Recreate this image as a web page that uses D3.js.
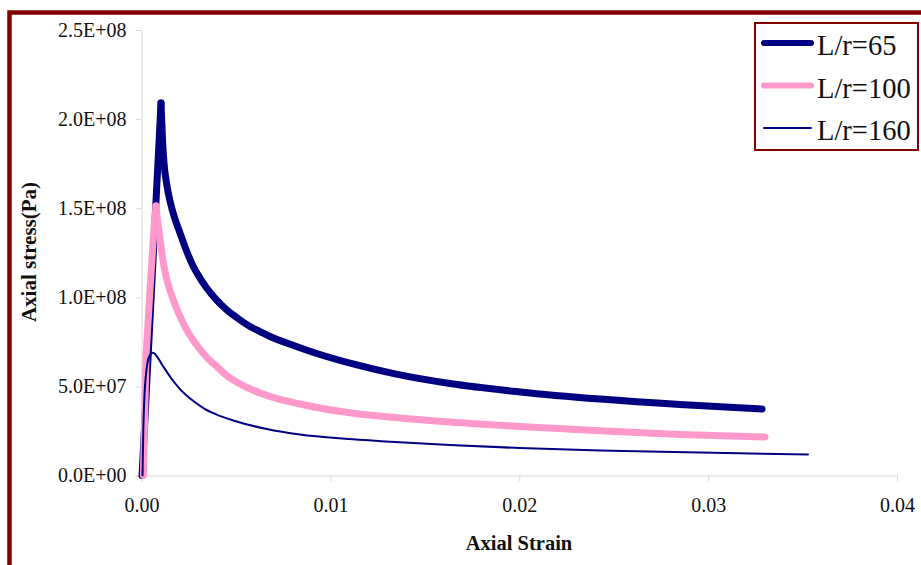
<!DOCTYPE html>
<html>
<head>
<meta charset="utf-8">
<script src="https://cdn.jsdelivr.net/npm/d3@7"></script>
<style>
  body { margin: 0; background: #fff; }
  text { font-family: "Liberation Serif", "Times New Roman", serif; fill: #111; }
</style>
</head>
<body>
<div id="viz"><svg></svg></div>
<script>
const fullWidth = 921;
const fullHeight = 565;

// axis ticks
const xTicks = [0, 0.01, 0.02, 0.03, 0.04];
const yTicks = [0, 5e7, 1e8, 1.5e8, 2e8, 2.5e8];

const labels = ['L/r=65', 'L/r=100', 'L/r=160'];

// [axial strain, axial stress (Pa)]
const s65 = [
  [0.00003, 0],
  [0.001032, 2.090e8],
  [0.001112, 1.883e8],
  [0.001191, 1.754e8],
  [0.001324, 1.641e8],
  [0.001509, 1.540e8],
  [0.001774, 1.439e8],
  [0.002038, 1.361e8],
  [0.002409, 1.254e8],
  [0.002743, 1.173e8],
  [0.003097, 1.108e8],
  [0.003452, 1.052e8],
  [0.003944, 0.988e8],
  [0.004511, 0.929e8],
  [0.005109, 0.881e8],
  [0.005745, 0.836e8],
  [0.006274, 0.808e8],
  [0.006803, 0.780e8],
  [0.008127, 0.727e8],
  [0.009451, 0.679e8],
  [0.011304, 0.623e8],
  [0.013422, 0.570e8],
  [0.016333, 0.516e8],
  [0.02004, 0.469e8],
  [0.024275, 0.429e8],
  [0.028511, 0.398e8],
  [0.032852, 0.373e8]
];

const s100 = [
  [0.0001, 0],
  [0.000238, 0.667e8],
  [0.00045, 1.041e8],
  [0.000678, 1.415e8],
  [0.000768, 1.512e8],
  [0.000847, 1.434e8],
  [0.000942, 1.361e8],
  [0.001059, 1.265e8],
  [0.001191, 1.173e8],
  [0.001403, 1.075e8],
  [0.001684, 0.985e8],
  [0.001985, 0.906e8],
  [0.002303, 0.836e8],
  [0.002621, 0.777e8],
  [0.003007, 0.721e8],
  [0.003468, 0.662e8],
  [0.003981, 0.612e8],
  [0.004474, 0.564e8],
  [0.00504, 0.525e8],
  [0.005639, 0.491e8],
  [0.006274, 0.463e8],
  [0.007333, 0.4265e8],
  [0.008392, 0.401e8],
  [0.009716, 0.373e8],
  [0.011304, 0.348e8],
  [0.013422, 0.3255e8],
  [0.016333, 0.300e8],
  [0.02004, 0.275e8],
  [0.024275, 0.251e8],
  [0.028511, 0.230e8],
  [0.033011, 0.216e8]
];

const s160 = [
  [0.000053, 0],
  [0.000095, 0.255e8],
  [0.000159, 0.452e8],
  [0.000265, 0.592e8],
  [0.000397, 0.665e8],
  [0.000593, 0.689e8],
  [0.001154, 0.611e8],
  [0.001562, 0.547e8],
  [0.002038, 0.485e8],
  [0.00278, 0.415e8],
  [0.003362, 0.373e8],
  [0.003981, 0.342e8],
  [0.00486, 0.309e8],
  [0.006629, 0.261e8],
  [0.008392, 0.230e8],
  [0.011039, 0.205e8],
  [0.013422, 0.188e8],
  [0.016333, 0.171e8],
  [0.02004, 0.154e8],
  [0.024275, 0.140e8],
  [0.02957, 0.129e8],
  [0.035288, 0.118e8]
];

const series = [
  { name: labels[0], data: s65, color: '#000080', width: 7, sharp: true },
  { name: labels[1], data: s100, color: '#ff99cc', width: 7, sharp: true },
  { name: labels[2], data: s160, color: '#000080', width: 2, sharp: false }
];

const svg = d3.select('#viz svg')
  .attr('width', fullWidth)
  .attr('height', fullHeight);

// outer frame (right and bottom edges fall outside the picture)
svg.append('rect')
  .attr('x', 9.5).attr('y', 12.5)
  .attr('width', 1000).attr('height', 1000)
  .attr('fill', 'none')
  .attr('stroke', '#800000')
  .attr('stroke-width', 4.5);

const x = d3.scaleLinear().domain([0, 0.04]).range([141.5, 897]);
const y = d3.scaleLinear().domain([0, 2.5e8]).range([475.5, 30]);

const sciFormat = d => {
  if (d === 0) return '0.0E+00';
  const e = Math.floor(Math.log10(d));
  const m = (d / Math.pow(10, e)).toFixed(1);
  return `${m}E+${String(e).padStart(2, '0')}`;
};

const xAxis = svg.append('g')
  .attr('transform', `translate(0,${y(0)})`)
  .call(d3.axisBottom(x).tickValues(xTicks).tickFormat(d => d.toFixed(2)).tickSizeOuter(0).tickSize(6).tickPadding(16));

const yAxis = svg.append('g')
  .attr('transform', `translate(${x(0)},0)`)
  .call(d3.axisLeft(y).tickValues(yTicks).tickFormat(sciFormat).tickSizeOuter(0).tickSize(6).tickPadding(9));

[xAxis, yAxis].forEach(a => {
  a.select('.domain').attr('stroke', '#d9d9d9');
  a.selectAll('.tick line').attr('stroke', '#d9d9d9');
  a.selectAll('.tick text')
    .attr('fill', '#111')
    .style('font-family', '"Liberation Serif", "Times New Roman", serif')
    .style('font-size', '20px');
});

const smooth = d3.line().x(d => x(d[0])).y(d => y(d[1])).curve(d3.curveMonotoneX);
const straight = d3.line().x(d => x(d[0])).y(d => y(d[1]));

const lines = svg.append('g');
for (const s of series) {
  let parts;
  if (s.sharp) {
    // pointed peak: straight rise, smooth fall
    const peak = d3.maxIndex(s.data, d => d[1]);
    parts = [straight(s.data.slice(0, peak + 1)), smooth(s.data.slice(peak))];
  } else {
    parts = [smooth(s.data)];
  }
  for (const p of parts) {
    lines.append('path')
      .attr('d', p)
      .attr('fill', 'none')
      .attr('stroke', s.color)
      .attr('stroke-width', s.width)
      .attr('stroke-linecap', 'round')
      .attr('stroke-linejoin', 'round');
  }
}

// axis titles
svg.append('text')
  .attr('x', 519).attr('y', 550)
  .attr('text-anchor', 'middle')
  .style('font-size', '20.5px')
  .style('font-weight', 'bold')
  .text('Axial Strain');

svg.append('text')
  .attr('transform', 'translate(36,252) rotate(-90)')
  .attr('text-anchor', 'middle')
  .style('font-size', '21px')
  .style('font-weight', 'bold')
  .text('Axial stress(Pa)');

// legend
const legend = svg.append('g');
legend.append('rect')
  .attr('x', 755).attr('y', 23)
  .attr('width', 163).attr('height', 127)
  .attr('fill', '#fff')
  .attr('stroke', '#800000')
  .attr('stroke-width', 2);

const rows = legend.selectAll('.row')
  .data(series)
  .enter().append('g')
  .attr('transform', (d, i) => `translate(0,${43 + i * 42.5})`);

rows.append('line')
  .attr('x1', 764).attr('x2', 811)
  .attr('stroke', d => d.color)
  .attr('stroke-width', d => d.width === 2 ? 2 : 6)
  .attr('stroke-linecap', 'round');

rows.append('text')
  .attr('x', 817).attr('y', 12)
  .style('font-size', '28.5px')
  .text(d => d.name);
</script>
</body>
</html>
